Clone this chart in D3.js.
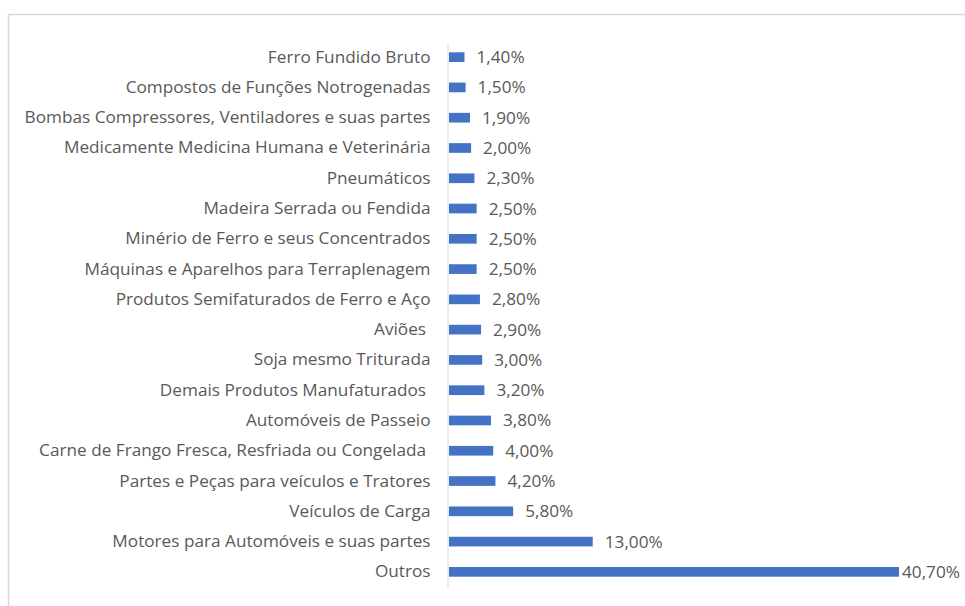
<!DOCTYPE html>
<html>
<head>
<meta charset="utf-8">
<script src="https://cdn.jsdelivr.net/npm/d3@7"></script>
<style>
  body { margin: 0; background: #fff; }
  svg { display: block; }
  text { font-family: "Open Sans", sans-serif; fill: #595959; white-space: pre; }
</style>
</head>
<body>
<div id="chart"></div>
<script>
const categories = [
    "Ferro Fundido Bruto",
    "Compostos de Funções Notrogenadas",
    "Bombas Compressores, Ventiladores e suas partes",
    "Medicamente Medicina Humana e Veterinária",
    "Pneumáticos",
    "Madeira Serrada ou Fendida",
    "Minério de Ferro e seus Concentrados",
    "Máquinas e Aparelhos para Terraplenagem",
    "Produtos Semifaturados de Ferro e Aço",
    "Aviões ",
    "Soja mesmo Triturada",
    "Demais Produtos Manufaturados ",
    "Automóveis de Passeio",
    "Carne de Frango Fresca, Resfriada ou Congelada ",
    "Partes e Peças para veículos e Tratores",
    "Veículos de Carga",
    "Motores para Automóveis e suas partes",
    "Outros"
];
const values = [1.4, 1.5, 1.9, 2.0, 2.3, 2.5, 2.5, 2.5, 2.8, 2.9, 3.0, 3.2, 3.8, 4.0, 4.2, 5.8, 13.0, 40.7];

const width = 965;
const height = 606;
const fontSize = "17.2px";

const svg = d3.select("#chart")
    .append("svg")
    .attr("width", width)
    .attr("height", height);

// chart frame (only top and left edges are visible in the crop)
svg.append("path")
    .attr("d", `M8.5,${height} V14.5 H${width}`)
    .attr("fill", "none")
    .attr("stroke", "#d9d9d9")
    .attr("stroke-width", 1.5);

const data = categories.map((c, i) => ({ category: c, value: values[i] }));

const x = d3.scaleLinear()
    .domain([0, 40.7])
    .range([449, 899]);

const y = d3.scaleBand()
    .domain(categories)
    .range([42, 587])
    .paddingInner(0.68)
    .paddingOuter(0.34);

const fmt = v => d3.format(".2f")(v).replace(".", ",") + "%";

// category axis
const yAxis = svg.append("g")
    .attr("transform", `translate(447.5,0)`)
    .call(d3.axisLeft(y).tickSize(0).tickPadding(17));
yAxis.select(".domain").attr("stroke", "#d9d9d9").attr("stroke-width", 1);
yAxis.selectAll("text")
    .style("font-size", fontSize)
    .attr("fill", "#595959")
    .style("font-family", "\"Open Sans\", sans-serif");

svg.selectAll(".bar")
    .data(data)
    .enter()
    .append("rect")
    .attr("class", "bar")
    .attr("x", x(0))
    .attr("y", d => y(d.category))
    .attr("width", d => x(d.value) - x(0))
    .attr("height", y.bandwidth())
    .attr("fill", "#4472c4");

svg.selectAll(".val")
    .data(data)
    .enter()
    .append("text")
    .attr("class", "val")
    .attr("x", d => Math.min(x(d.value) + 12, 902))
    .attr("y", d => y(d.category) + y.bandwidth() / 2)
    .attr("dy", "0.35em")
    .style("font-size", fontSize)
    .text(d => fmt(d.value));
</script>
</body>
</html>
